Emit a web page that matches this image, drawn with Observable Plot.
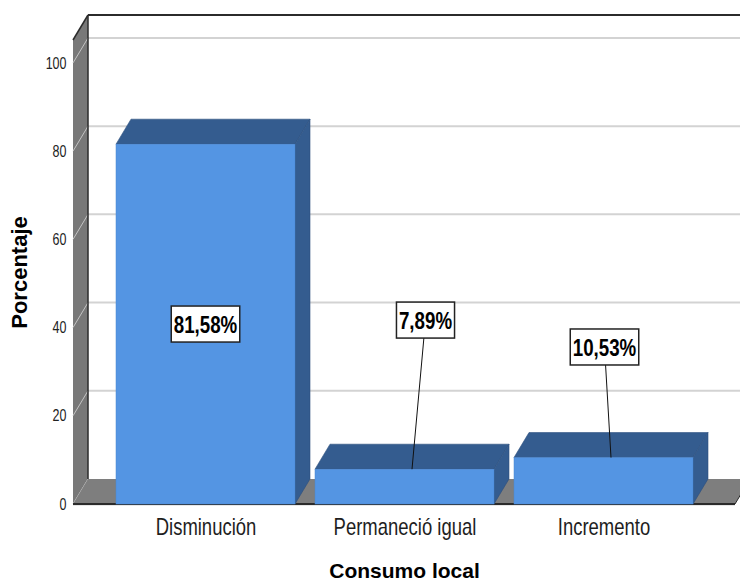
<!DOCTYPE html>
<html><head><meta charset="utf-8">
<script src="https://cdn.jsdelivr.net/npm/d3@7"></script>
<script src="https://cdn.jsdelivr.net/npm/@observablehq/plot@0.6"></script>
<style>
html,body{margin:0;padding:0;background:#fff;}
#chart svg{display:block;}
</style></head><body><div id="chart"></div>
<script>
// ---- data ----
const categories = ["Disminución", "Permaneció igual", "Incremento"];
const percentages = [81.58, 7.89, 10.53];
const valueLabels = ["81,58%", "7,89%", "10,53%"];
const yTicks = [0, 20, 40, 60, 80, 100];
const xTitle = "Consumo local";
const yTitle = "Porcentaje";

const data = categories.map((c, i) => ({categoria: c, pct: percentages[i], label: valueLabels[i]}));

// ---- layout / style ----
const W = 740, H = 583;
const DEPTH = {dx: 15, dy: -25};
const labelLayout = [
  {level: 40.8, dx: 0, leader: false},
  {level: 41.7, dx: 21, leader: true},
  {level: 35.6, dx: 1, leader: true}
];
const FONT = "'Liberation Sans',Arial,'Noto Sans',sans-serif";
const BLUE = "#5495e3", BLUE_DARK = "#345c8f", WALL = "#787878", FLOOR = "#7e7e7e",
      GRID = "#d3d3d3", EDGE = "#2b2b2b";
const SVGNS = "http://www.w3.org/2000/svg";
const LABEL_SQUASH = 0.78;

function bandInfo(sx) {
  if (typeof sx.bandwidth === "function") return sx.bandwidth();
  const step = sx(categories[1]) - sx(categories[0]);
  return step * 0.9;
}

function room(index, scales, values, dim) {
  const y = scales.y;
  const {marginLeft: L, marginTop: T, marginRight: R, width} = dim;
  const x0 = L, x1 = width - R, yb = y(0), yt = T;
  const {dx, dy} = DEPTH;
  const g = d3.create("svg:g");
  for (const t of yTicks) if (t > 0)
    g.append("line").attr("x1", x0 + dx).attr("x2", width).attr("y1", y(t) + dy).attr("y2", y(t) + dy)
      .attr("stroke", GRID).attr("stroke-width", 2);
  g.append("path").attr("d", `M${x0},${yb}L${x0},${yt}L${x0 + dx},${yt + dy}L${x0 + dx},${yb + dy}Z`).attr("fill", WALL);
  for (const t of yTicks)
    g.append("line").attr("x1", x0).attr("y1", y(t)).attr("x2", x0 + dx).attr("y2", y(t) + dy)
      .attr("stroke", "#c4c4c4").attr("stroke-width", 1);
  g.append("path").attr("d", `M${x0},${yb}L${x1},${yb}L${x1 + dx},${yb + dy}L${x0 + dx},${yb + dy}Z`).attr("fill", FLOOR);
  g.append("line").attr("x1", x0 + dx).attr("x2", width).attr("y1", yt + dy).attr("y2", yt + dy).attr("stroke", EDGE).attr("stroke-width", 2);
  g.append("line").attr("x1", x0).attr("y1", yt).attr("x2", x0 + dx).attr("y2", yt + dy).attr("stroke", EDGE).attr("stroke-width", 1.5);
  g.append("line").attr("x1", x0 + dx).attr("x2", x0 + dx).attr("y1", yt + dy).attr("y2", yb + dy).attr("stroke", EDGE).attr("stroke-width", 1.5);
  g.append("line").attr("x1", x0).attr("x2", x1).attr("y1", yb + 1).attr("y2", yb + 1).attr("stroke", "#cfcfcf").attr("stroke-width", 1);
  g.append("line").attr("x1", x0).attr("x2", x1).attr("y1", yb).attr("y2", yb).attr("stroke", EDGE).attr("stroke-width", 2);
  g.append("line").attr("x1", x1).attr("y1", yb).attr("x2", x1 + dx).attr("y2", yb + dy).attr("stroke", EDGE).attr("stroke-width", 1);
  return g.node();
}

function bar3d(index, scales, values, dim, ctx, next) {
  const g = next(index, scales, values, dim, ctx);
  const {dx, dy} = DEPTH;
  for (const r of Array.from(g.querySelectorAll("rect"))) {
    const x = +r.getAttribute("x"), y = +r.getAttribute("y"), w = +r.getAttribute("width"), h = +r.getAttribute("height");
    const faces = [
      `M${x},${y}L${x + dx},${y + dy}L${x + w + dx},${y + dy}L${x + w},${y}Z`,
      `M${x + w},${y}L${x + w + dx},${y + dy}L${x + w + dx},${y + h + dy}L${x + w},${y + h}Z`
    ];
    for (const d of faces) {
      const p = document.createElementNS(SVGNS, "path");
      p.setAttribute("d", d);
      p.setAttribute("fill", BLUE_DARK);
      p.setAttribute("stroke", "#2c4f7e");
      p.setAttribute("stroke-width", "0.6");
      r.parentNode.insertBefore(p, r);
    }
  }
  return g;
}

function labelsMark(index, scales, values, dim) {
  const sx = scales.x, sy = scales.y, bw = bandInfo(sx);
  const g = d3.create("svg:g");
  const cnv = document.createElement("canvas").getContext("2d");
  cnv.font = `bold 24px ${FONT}`;
  data.forEach((d, i) => {
    const Lo = labelLayout[i];
    const center = sx(d.categoria) + bw / 2;
    const cx = center + Lo.dx, cy = sy(Lo.level);
    const tw = cnv.measureText(d.label).width * LABEL_SQUASH;
    const w = tw + 5, h = 36;
    if (Lo.leader)
      g.append("line").attr("x1", cx).attr("y1", cy).attr("x2", center + DEPTH.dx / 2).attr("y2", sy(d.pct))
        .attr("stroke", "#111").attr("stroke-width", 1);
    g.append("rect").attr("x", cx - w / 2).attr("y", cy - h / 2).attr("width", w).attr("height", h)
      .attr("fill", "#fff").attr("stroke", "#222").attr("stroke-width", 1.5);
    g.append("text").attr("x", cx).attr("y", cy).attr("dy", "0.36em").attr("text-anchor", "middle")
      .attr("font-family", FONT).attr("font-weight", "bold").attr("font-size", 24).attr("fill", "#000")
      .attr("textLength", tw.toFixed(2)).attr("lengthAdjust", "spacingAndGlyphs")
      .text(d.label);
  });
  return g.node();
}

const chart = Plot.plot({
  width: W, height: H,
  marginLeft: 73, marginRight: 5, marginTop: 40, marginBottom: 79,
  style: {fontFamily: FONT, background: "#fff", overflow: "visible"},
  x: {domain: categories, range: [106, 703], paddingInner: 0.1, paddingOuter: 0.05, label: null},
  y: {domain: [0, 105.2], label: null},
  marks: [
    room,
    Plot.barY(data, {x: "categoria", y: "pct", fill: BLUE, stroke: "#4a86d0", strokeWidth: 0.5, render: bar3d}),
    labelsMark,
    Plot.axisY({ticks: yTicks, tickSize: 0, tickPadding: 7, fontSize: 16, color: "#222", label: null}),
    Plot.axisX({tickSize: 0, tickPadding: 13, fontSize: 24, color: "#1e1e1e", label: null}),
    Plot.text([yTitle], {frameAnchor: "left", textAnchor: "middle", lineAnchor: "middle", rotate: -90, dx: -54,
      fontSize: 22, fontWeight: "bold", fill: "#000", ariaLabel: "y-title"}),
    Plot.text([xTitle], {frameAnchor: "bottom", dy: 67, fontSize: 21, fontWeight: "bold", lineAnchor: "middle",
      fill: "#000", ariaLabel: "x-title"})
  ]
});
document.getElementById("chart").append(chart);

// narrow glyph proportions of the original rendering
function squashText(sel, f) {
  chart.querySelectorAll(sel).forEach(t => {
    const L = t.getComputedTextLength();
    if (L > 0) {
      t.setAttribute("textLength", (L * f).toFixed(2));
      t.setAttribute("lengthAdjust", "spacingAndGlyphs");
    }
  });
}
squashText('g[aria-label="y-axis tick label"] text', 0.78);
squashText('g[aria-label="x-axis tick label"] text', 0.77);
squashText('g[aria-label="x-title"] text', 0.82);
chart.querySelectorAll('g[aria-label="y-title"] text').forEach(t =>
  t.setAttribute("transform", (t.getAttribute("transform") || "") + " scale(1,0.78)"));
</script>
</body></html>
